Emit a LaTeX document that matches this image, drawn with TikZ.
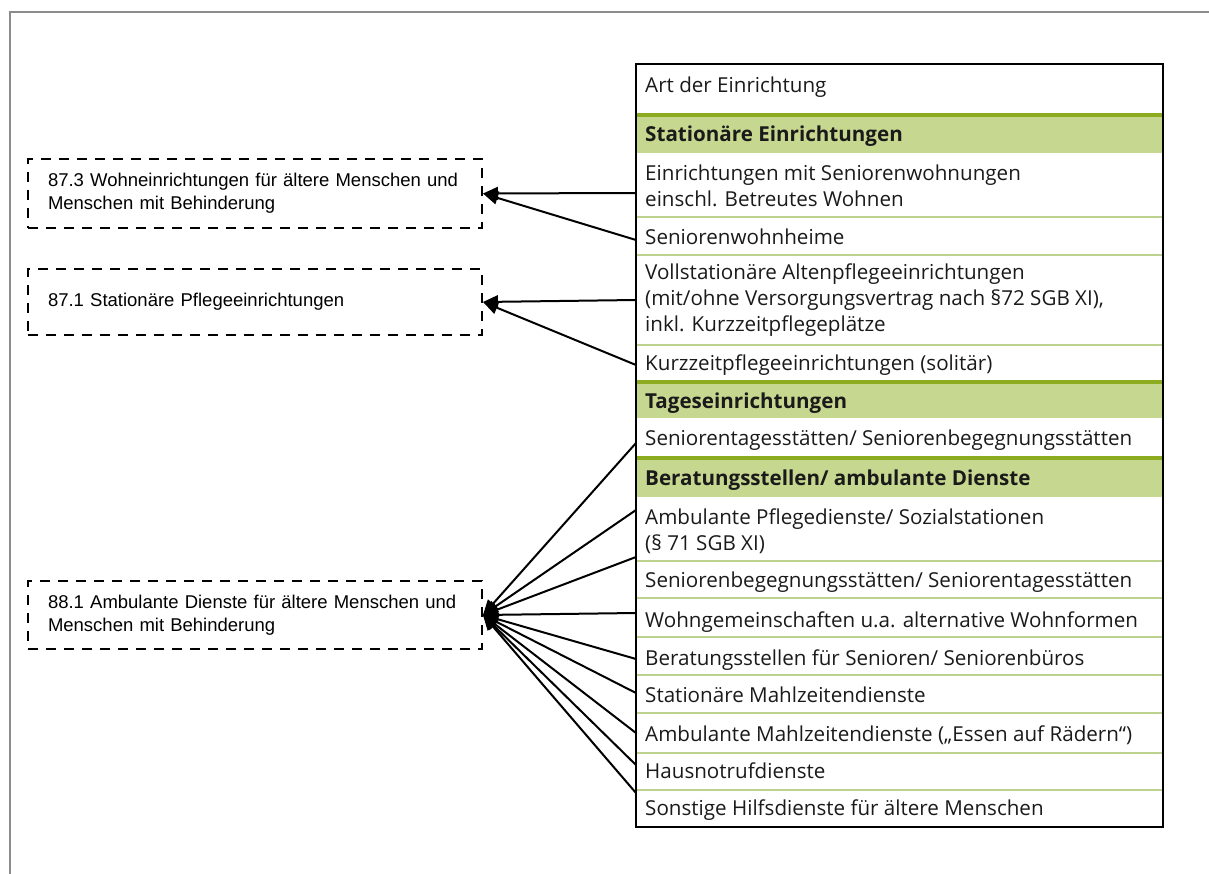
\documentclass[tikz,border=0pt]{standalone}
\usepackage{fontspec}
\setmainfont{Liberation Sans}
\newfontfamily\tabfont{Open Sans}
\usetikzlibrary{arrows.meta}
\definecolor{gband}{HTML}{C6D88F}
\definecolor{gthick}{HTML}{8DAB1F}
\definecolor{gthin}{HTML}{BDD28C}
\definecolor{framegray}{HTML}{8C8C8C}
\definecolor{txt}{HTML}{1A1A1A}
\begin{document}
\begin{tikzpicture}[x=1pt,y=-1pt,
  dbox/.style={draw, line width=2pt, dash pattern=on 10pt off 8pt, minimum width=454pt,
    text width=414pt, inner xsep=20pt, inner ysep=0pt, align=left,
    font=\fontsize{18.5}{23}\selectfont, anchor=north west},
  rowtxt/.style={anchor=base west, inner sep=0pt, align=left,
    font=\tabfont\fontsize{20.6}{26}\selectfont, text=txt},
  hdtxt/.style={rowtxt, font=\tabfont\bfseries\fontsize{20.6}{26}\selectfont},
  arr/.style={line width=2pt, -{Triangle[length=15pt,width=13pt]}},
  sep/.style={gthin, line width=2pt},
]
\useasboundingbox (0,0) rectangle (1209,874);
\draw[framegray, line width=2.5pt] (10,874) -- (10,12) -- (1209,12);

% green bands
\fill[gband] (636,115) rectangle (1163,153);
\fill[gthick] (636,113) rectangle (1163,117);
\fill[gband] (636,382) rectangle (1163,418);
\fill[gthick] (636,380) rectangle (1163,384);
\fill[gband] (636,458) rectangle (1163,497);
\fill[gthick] (636,456) rectangle (1163,460);

% thin separators
\foreach \yy in {217,255,345,561,598,637,675,713,753,790}
  \draw[sep] (636,\yy) -- (1163,\yy);

% table frame
\draw[line width=1.5pt] (636,64) rectangle (1163,827);

% table texts (base = baseline of the last line)
\node[rowtxt] (t0) at (645,93) {Art der Einrichtung};
\node[hdtxt] (h1) at (645,142) {Stationäre Einrichtungen};
\node[rowtxt] (t1) at (645,207) {Einrichtungen mit Seniorenwohnungen\\einschl. Betreutes Wohnen};
\node[rowtxt] (t2) at (645,245) {Seniorenwohnheime};
\node[rowtxt] (t3) at (645,331) {Vollstationäre Altenpflegeeinrichtungen\\(mit/ohne Versorgungsvertrag nach §72 SGB XI),\\inkl. Kurzzeitpflegeplätze};
\node[rowtxt] (t4) at (645,370) {Kurzzeitpflegeeinrichtungen (solitär)};
\node[hdtxt] (h2) at (645,408) {Tageseinrichtungen};
\node[rowtxt] (t5) at (645,445) {Seniorentagesstätten/ Seniorenbegegnungsstätten};
\node[hdtxt] (h3) at (645,485) {Beratungsstellen/ ambulante Dienste};
\node[rowtxt] (t6) at (645,550) {Ambulante Pflegedienste/ Sozialstationen\\(§ 71 SGB XI)};
\node[rowtxt] (t7) at (645,587) {Seniorenbegegnungsstätten/ Seniorentagesstätten};
\node[rowtxt] (t8) at (645,627) {Wohngemeinschaften u.a. alternative Wohnformen};
\node[rowtxt] (t9) at (645,665) {Beratungsstellen für Senioren/ Seniorenbüros};
\node[rowtxt] (t10) at (645,702) {Stationäre Mahlzeitendienste};
\node[rowtxt] (t11) at (645,741) {Ambulante Mahlzeitendienste („Essen auf Rädern“)};
\node[rowtxt] (t12) at (645,778) {Hausnotrufdienste};
\node[rowtxt] (t13) at (645,815) {Sonstige Hilfsdienste für ältere Menschen};

% dashed boxes
\node[dbox, minimum height=69pt] (b1) at (27,158) {87.3 Wohneinrichtungen für ältere Menschen und\\Menschen mit Behinderung};
\node[dbox, minimum height=66pt] (b2) at (27,268) {87.1 Stationäre Pflegeeinrichtungen};
\node[dbox, minimum height=68pt] (b3) at (27,580) {88.1 Ambulante Dienste für ältere Menschen und\\Menschen mit Behinderung};

% connector start points on the table edge
\coordinate (p1) at (636,193);
\coordinate (p2) at (636,240);
\coordinate (p3) at (636,300);
\coordinate (p4) at (636,365);
\foreach \n/\yy in {a/443,b/510,c/557,d/613,e/659,f/693,g/733,h/765,i/793}
  \coordinate (q\n) at (636,\yy);

\draw[arr] (p1) -- (b1.east);
\draw[arr] (p2) -- (b1.east);
\draw[arr] (p3) -- (b2.east);
\draw[arr] (p4) -- (b2.east);
\foreach \n in {a,b,c,d,e,f,g,h,i}
  \draw[arr] (q\n) -- (b3.east);
\end{tikzpicture}
\end{document}
